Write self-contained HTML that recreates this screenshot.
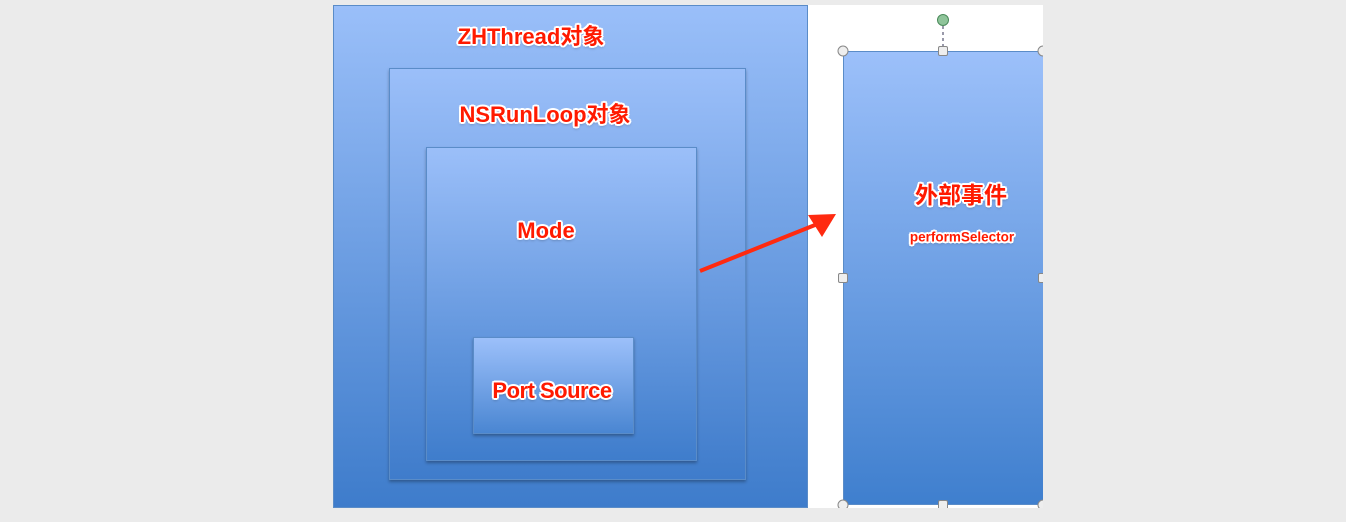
<!DOCTYPE html>
<html><head><meta charset="utf-8"><style>
body{margin:0;width:1346px;height:522px;background:#ebebeb;position:relative;overflow:hidden;font-family:"Liberation Sans","Noto Sans CJK SC",sans-serif}
.abs{position:absolute}
.box{position:absolute;background:linear-gradient(#9cc0fa,#3f7fce);border:1px solid #5a8cc8;box-sizing:border-box}
.sh{box-shadow:0 2px 3px rgba(0,0,0,.3)}
.t{position:absolute;color:#ff1a00;font-weight:bold;white-space:nowrap;transform:translate(-50%,-50%);
text-shadow:-2px 0 #fff,2px 0 #fff,0 -2px #fff,0 2px #fff,-1.5px -1.5px #fff,1.5px 1.5px #fff,-1.5px 1.5px #fff,1.5px -1.5px #fff,0 2px 3px rgba(0,0,0,.4)}
.h{position:absolute;width:10px;height:10px;background:#eee;border:1px solid #888;border-radius:2px;box-sizing:border-box;transform:translate(-50%,-50%)}
</style></head><body>
<div class="abs" style="left:333px;top:5px;width:710px;height:503px;background:#fff"></div>
<div class="box" style="left:333px;top:5px;width:475px;height:503px;background:linear-gradient(#9abff9,#3e7ccb)"></div>
<div class="box sh" style="left:389px;top:68px;width:357px;height:412px;background:linear-gradient(#9bbff9,#3f7ccb)"></div>
<div class="box sh" style="left:426px;top:147px;width:271px;height:314px;background:linear-gradient(#9bbff9,#3f7dcc)"></div>
<div class="box sh" style="left:473px;top:337px;width:161px;height:97px;background:linear-gradient(#9cc0fa,#4a86d2)"></div>
<div class="box" style="left:843px;top:51px;width:200px;height:454px;background:linear-gradient(#9cc0fa,#3f7fce);border-right:none"></div>
<div class="t" style="left:531px;top:35px;font-size:22px">ZHThread对象</div>
<div class="t" style="left:545px;top:113px;font-size:22px">NSRunLoop对象</div>
<div class="t" style="left:546px;top:231px;font-size:22px">Mode</div>
<div class="t" style="left:552px;top:391px;font-size:22px;letter-spacing:-0.5px">Port Source</div>
<div class="t" style="left:961px;top:193px;font-size:23px">外部事件</div>
<div class="t" style="left:962px;top:237px;font-size:13.5px">performSelector</div>
<svg class="abs" style="left:0;top:0" width="1346" height="522">
<line x1="700" y1="271" x2="815" y2="225" stroke="#ff2a10" stroke-width="4"/>
<polygon points="836,214 808,215 822,237" fill="#ff2a10"/>
<line x1="943" y1="26" x2="943" y2="46" stroke="#335" stroke-width="1" stroke-dasharray="3,3"/>
<circle cx="943" cy="20" r="5.5" fill="#8fc49a" stroke="#4a8a5a"/>
<circle cx="843" cy="51" r="5" fill="#eee" stroke="#888"/>
<circle cx="1043" cy="51" r="5" fill="#eee" stroke="#888"/>
<circle cx="843" cy="505" r="5" fill="#eee" stroke="#888"/>
<circle cx="1043" cy="505" r="5" fill="#eee" stroke="#888"/>
</svg>
<div class="h" style="left:943px;top:51px"></div>
<div class="h" style="left:843px;top:278px"></div>
<div class="h" style="left:1043px;top:278px"></div>
<div class="h" style="left:943px;top:505px"></div>
<div class="abs" style="left:1043px;top:0;width:303px;height:522px;background:#ebebeb"></div>
<div class="abs" style="left:0;top:508px;width:1346px;height:14px;background:#ebebeb"></div>
<div class="abs" style="left:0;top:0;width:1346px;height:5px;background:#ebebeb"></div>
</body></html>
